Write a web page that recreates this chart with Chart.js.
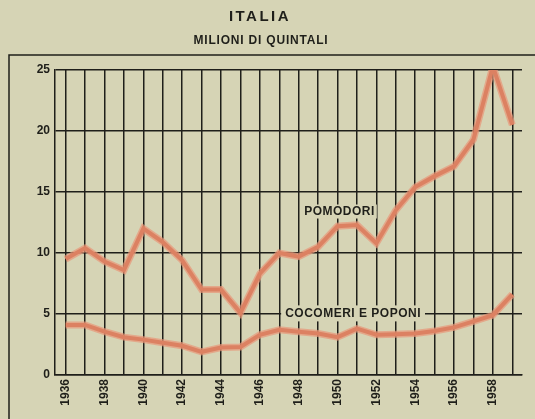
<!DOCTYPE html>
<html>
<head>
<meta charset="utf-8">
<script src="https://cdn.jsdelivr.net/npm/chart.js@4/dist/chart.umd.min.js"></script>
<style>
  html, body { margin: 0; padding: 0; background: #d6d4b5; }
  #wrap { width: 535px; height: 419px; }
</style>
</head>
<body>
<div id="wrap"><canvas id="myChart" width="535" height="419"></canvas></div>
<script>
const years = [1936, 1937, 1938, 1939, 1940, 1941, 1942, 1943, 1944, 1945, 1946, 1947,
  1948, 1949, 1950, 1951, 1952, 1953, 1954, 1955, 1956, 1957, 1958, 1959];
const pomodori = [9.5, 10.4, 9.3, 8.6, 12.0, 10.9, 9.4, 7.0, 7.0, 5.1, 8.3, 10.0,
  9.7, 10.5, 12.2, 12.3, 10.8, 13.5, 15.4, 16.3, 17.1, 19.3, 25.3, 20.5];
const cocomeri = [4.1, 4.1, 3.55, 3.1, 2.9, 2.65, 2.4, 1.9, 2.25, 2.3, 3.3, 3.7,
  3.55, 3.4, 3.1, 3.8, 3.3, 3.35, 3.4, 3.6, 3.9, 4.4, 4.9, 6.6];
const yTicks = [0, 5, 10, 15, 20, 25];
const seriesLabels = ["POMODORI", "COCOMERI E POPONI"];

const ink = "#1f1f1a";
const paper = "#d6d4b5";
const fontFam = "'Liberation Sans', Arial, sans-serif";

function pts(arr) {
  return years.map((y, i) => ({ x: y, y: arr[i] }));
}

const decor = {
  id: "decor",
  beforeDraw(chart) {
    const c = chart.ctx;
    c.save();
    c.fillStyle = paper;
    c.fillRect(0, 0, chart.width, chart.height);
    // outer frame
    c.strokeStyle = ink;
    c.lineWidth = 1.5;
    c.beginPath();
    c.moveTo(9, 419);
    c.lineTo(9, 55);
    c.lineTo(535, 55);
    c.stroke();
    // titles
    c.fillStyle = ink;
    c.textAlign = "center";
    c.textBaseline = "middle";
    c.font = "bold 15px " + fontFam;
    c.letterSpacing = "2.5px";
    c.fillText("ITALIA", 260, 17);
    c.font = "bold 12px " + fontFam;
    c.letterSpacing = "0.8px";
    c.fillText("MILIONI DI QUINTALI", 261, 41);
    c.restore();
  },
  afterDatasetsDraw(chart) {
    const c = chart.ctx;
    const xs = chart.scales.x, ys = chart.scales.y;
    c.save();
    c.font = "bold 12px " + fontFam;
    c.letterSpacing = "0.5px";
    c.textAlign = "center";
    c.textBaseline = "middle";
    // POMODORI
    let px = xs.getPixelForValue(1950.1), py = ys.getPixelForValue(13.4);
    let w = c.measureText(seriesLabels[0]).width;
    c.fillStyle = paper;
    c.fillRect(px - w / 2 - 2, py - 7, w + 4, 14);
    c.fillStyle = ink;
    c.fillText(seriesLabels[0], px, py);
    // COCOMERI E POPONI
    px = xs.getPixelForValue(1950.8); py = ys.getPixelForValue(5.05);
    w = c.measureText(seriesLabels[1]).width;
    c.fillStyle = paper;
    c.fillRect(px - w / 2 - 4, py - 8, w + 8, 16);
    c.fillStyle = ink;
    c.fillText(seriesLabels[1], px, py);
    c.restore();
  }
};

const halo = "rgba(232, 150, 120, 0.7)";
const core = "#bf5230";

new Chart(document.getElementById("myChart"), {
  type: "line",
  data: {
    datasets: [
      { data: pts(pomodori), borderColor: halo, borderWidth: 7, pointRadius: 0, tension: 0 },
      { data: pts(cocomeri), borderColor: halo, borderWidth: 7, pointRadius: 0, tension: 0 },
      { data: pts(pomodori), borderColor: core, borderWidth: 4, pointRadius: 0, tension: 0 },
      { data: pts(cocomeri), borderColor: core, borderWidth: 4, pointRadius: 0, tension: 0 }
    ]
  },
  options: {
    responsive: false,
    animation: false,
    layout: { padding: { top: 70, right: 13, left: 0, bottom: 0 } },
    plugins: { legend: { display: false }, tooltip: { enabled: false } },
    scales: {
      x: {
        type: "linear",
        min: 1935.45,
        max: 1959.5,
        afterFit: (s) => { s.height = 44; },
        afterBuildTicks: (s) => { s.ticks = years.map((y) => ({ value: y })); },
        border: { display: true, color: ink, width: 1.5 },
        grid: { color: ink, lineWidth: 1.5, drawTicks: false },
        ticks: {
          autoSkip: false,
          maxRotation: 90,
          minRotation: 90,
          padding: 4,
          color: ink,
          font: { family: fontFam, weight: "bold", size: 12 },
          callback: (v) => (v % 2 === 0 ? String(v) : "")
        }
      },
      y: {
        min: 0,
        max: 25,
        afterFit: (s) => { s.width = 55; },
        afterBuildTicks: (s) => { s.ticks = yTicks.map((v) => ({ value: v })); },
        border: { display: true, color: ink, width: 1.5 },
        grid: { color: ink, lineWidth: 1.5, drawTicks: false },
        ticks: {
          padding: 5,
          color: ink,
          font: { family: fontFam, weight: "bold", size: 12 }
        }
      }
    }
  },
  plugins: [decor]
});
</script>
</body>
</html>
